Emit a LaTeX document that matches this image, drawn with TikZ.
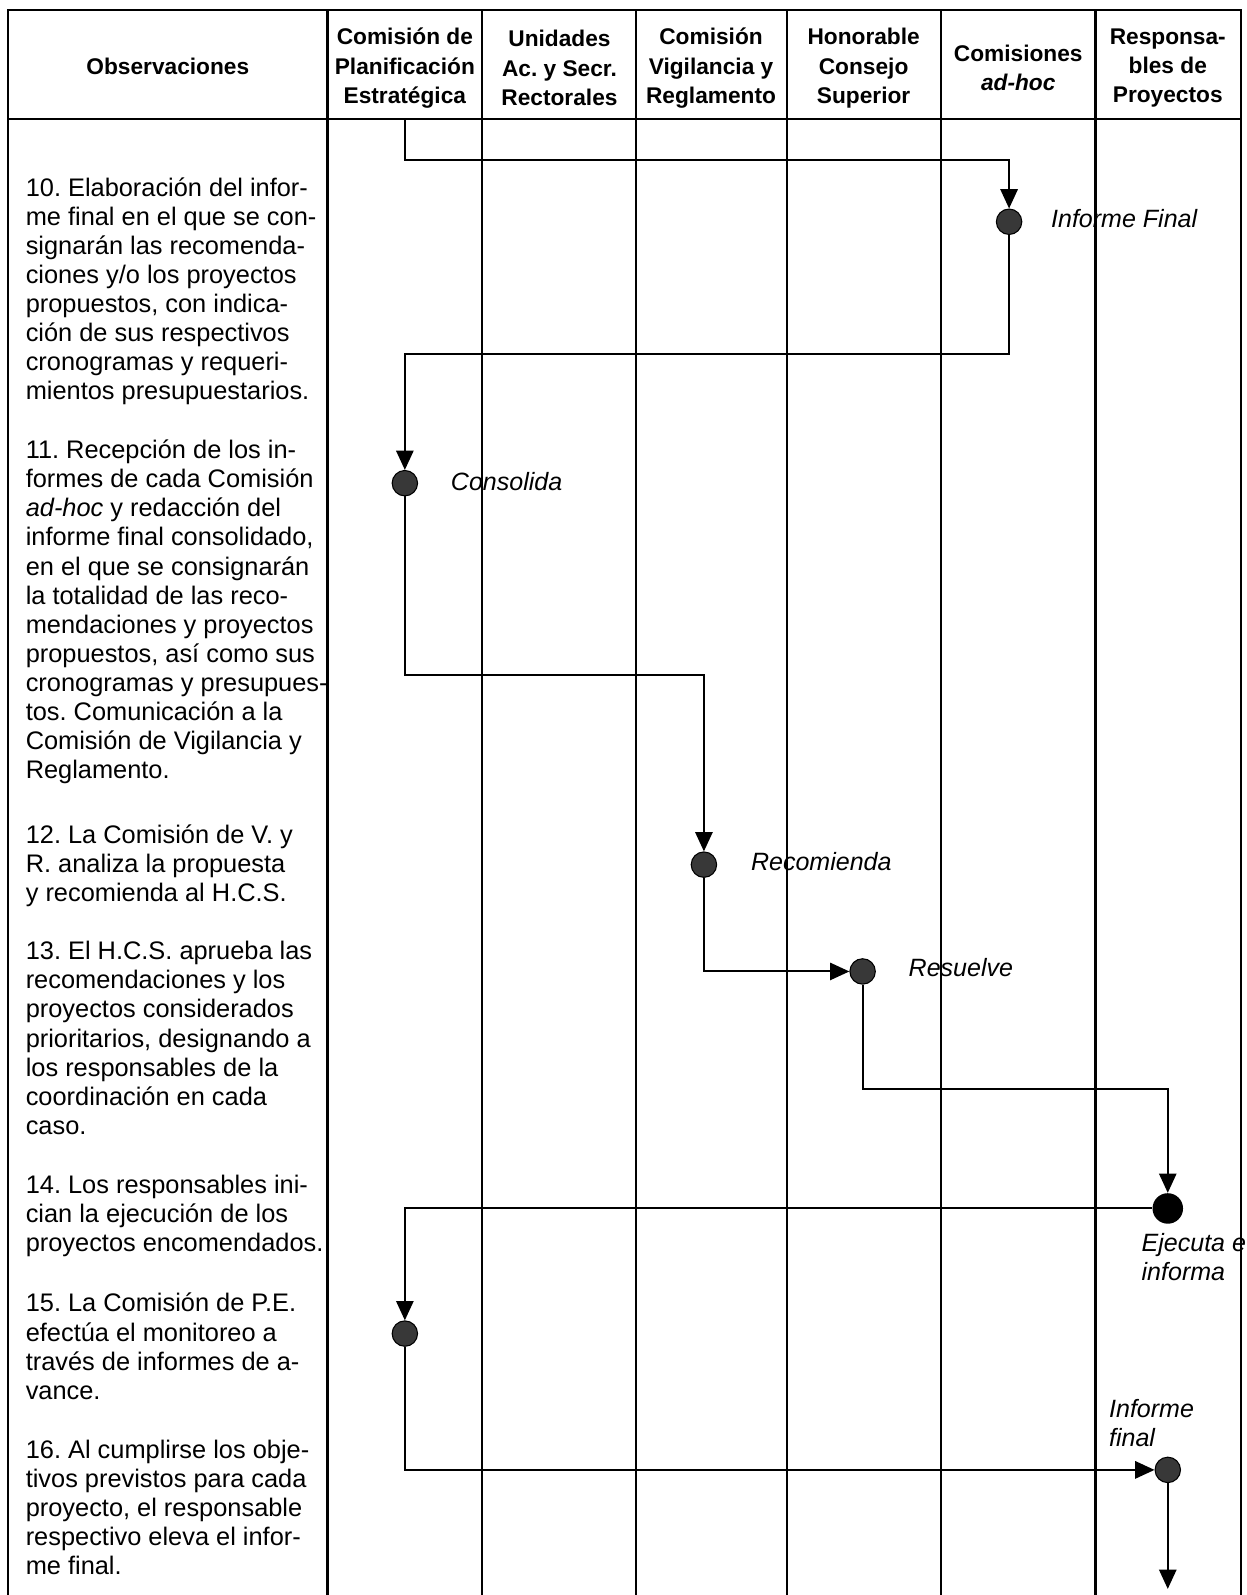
\documentclass[tikz,border=0pt]{standalone}
\usepackage{fontspec}
\setmainfont{Liberation Sans}
\usetikzlibrary{arrows.meta}
\frenchspacing

\tikzset{
  frame/.style={line width=1.2pt},
  flow/.style={line width=1.1pt,-{Triangle[length=0.38cm,width=0.34cm]}},
  dot/.style={circle,draw=black,fill=black!78,line width=0.6pt,inner sep=0pt,minimum size=0.5cm},
  bigdot/.style={circle,fill=black,inner sep=0pt,minimum size=0.6cm},
  head/.style={align=center,inner sep=0pt,font=\fontsize{12.7}{16.4}\selectfont\bfseries},
  obs/.style={anchor=north west,align=left,inner sep=0pt,font=\fontsize{14.2}{16.3}\selectfont},
  lbl/.style={anchor=west,inner sep=0pt,font=\fontsize{14}{16.3}\selectfont\itshape}
}

\begin{document}
\begin{tikzpicture}[x=0.02cm,y=-0.02cm]
\useasboundingbox (0,0) rectangle (1225,1568);

%frame and columns
\draw[frame] (8,1568)--(8,10)--(1220,10)--(1220,1568);
\draw[frame] (8,117)--(1220,117);

\draw[frame] (322,10)--(322,1568);
\draw[frame] (474,10)--(474,1568);
\draw[frame] (625,10)--(625,1568);
\draw[frame] (774,10)--(774,1568);
\draw[frame] (925,10)--(925,1568);
\draw[frame] (1077,10)--(1077,1568);

%header
\node[head] (hObs) at (165,65)  {Observaciones};
\node[head] (hCPE) at (398,67)  {Comisión de\\Planificación\\Estratégica};
\node[head] (hUAS) at (550,67)  {Unidades\\Ac. y Secr.\\Rectorales};
\node[head] (hCVR) at (699,67)  {Comisión\\Vigilancia y\\Reglamento};
\node[head] (hHCS) at (849,67)  {Honorable\\Consejo\\Superior};
\node[head] (hCAH) at (1001,67) {Comisiones\\\textit{ad-hoc}};
\node[head] (hRP)  at (1148,67) {Responsa-\\bles de\\Proyectos};

%observaciones
\node[obs] (o10) at (25,174) {10. Elaboración del infor-\\me final en el que se con-\\signarán las recomenda-\\ciones y/o los proyectos\\propuestos, con indica-\\ción de sus respectivos\\cronogramas y requeri-\\mientos presupuestarios.};
\node[obs] (o11) at (25,432) {11. Recepción de los in-\\formes de cada Comisión\\\textit{ad-hoc} y redacción del\\informe final consolidado,\\en el que se consignarán\\la totalidad de las reco-\\mendaciones y proyectos\\propuestos, así como sus\\cronogramas y presupues-\\tos. Comunicación a la\\Comisión de Vigilancia y\\Reglamento.};
\node[obs] (o12) at (25,810) {12. La Comisión de V. y\\R. analiza la propuesta\\y recomienda al H.C.S.};
\node[obs] (o13) at (25,925) {13. El H.C.S. aprueba las\\recomendaciones y los\\proyectos considerados\\prioritarios, designando a\\los responsables de la\\coordinación en cada\\caso.};
\node[obs] (o14) at (25,1155) {14. Los responsables ini-\\cian la ejecución de los\\proyectos encomendados.};
\node[obs] (o15) at (25,1271) {15. La Comisión de P.E.\\efectúa el monitoreo a\\través de informes de a-\\vance.};
\node[obs] (o16) at (25,1415) {16. Al cumplirse los obje-\\tivos previstos para cada\\proyecto, el responsable\\respectivo eleva el infor-\\me final.};

%steps
\coordinate (start) at (398,117);
\node[dot]    (infF)  at (992,218)  {};
\node[dot]    (cons)  at (398,475)  {};
\node[dot]    (recom) at (692,850)  {};
\node[dot]    (resu)  at (848,955)  {};
\node[bigdot] (ejec)  at (1148,1188) {};
\node[dot]    (monit) at (398,1311) {};
\node[dot]    (infP)  at (1148,1445) {};
\coordinate (fin) at (1148,1562);

\node[lbl] (lInfF)  at (1033,215) {Informe Final};
\node[lbl] (lCons)  at (443,473)  {Consolida};
\node[lbl] (lRecom) at (738,847)  {Recomienda};
\node[lbl] (lResu)  at (893,951)  {Resuelve};
\node[lbl,anchor=north west,align=left] (lEjec) at (1122,1212) {Ejecuta e\\informa};
\node[lbl,anchor=north west,align=left] (lInfP) at (1090,1375) {Informe\\final};

%flow
\draw[flow] (start) -- ++(0,40) -| (infF);
\draw[flow] (infF) -- ++(0,130) -| (cons);
\draw[flow] (cons) -- ++(0,189) -| (recom);
\draw[flow] (recom) |- (resu);
\draw[flow] (resu) -- ++(0,116) -| (ejec);
\draw[flow] (ejec) -| (monit);
\draw[flow] (monit) |- (infP);
\draw[flow] (infP) -- (fin);

\end{tikzpicture}
\end{document}
